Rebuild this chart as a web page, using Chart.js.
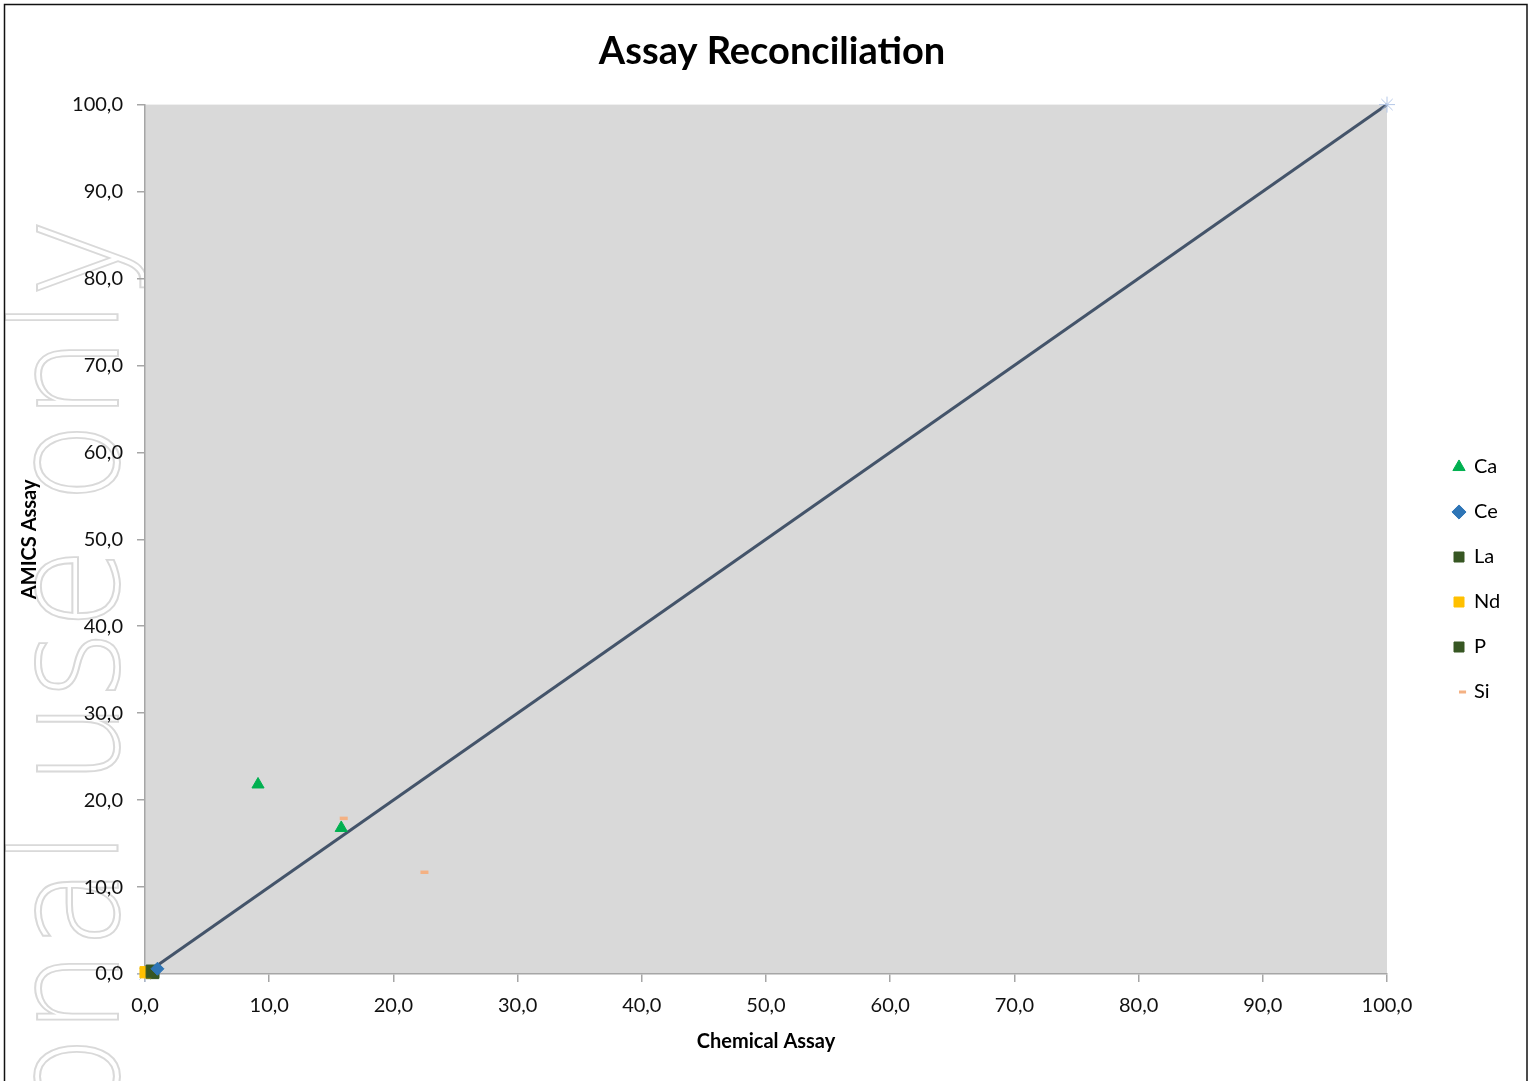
<!DOCTYPE html>
<html>
<head>
<meta charset="utf-8">
<title>Assay Reconciliation</title>
<script src="https://cdn.jsdelivr.net/npm/chart.js@4.4.1/dist/chart.umd.min.js"></script>
<style>
  html, body { margin: 0; padding: 0; background: #fff; }
  #wrap { width: 1536px; height: 1081px; }
</style>
</head>
<body>
<div id="wrap"><canvas id="myChart" width="1536" height="1081"></canvas></div>
<script>
// values (x = chemical assay, y = AMICS assay)
var caX = [9.1, 15.8];
var caY = [21.8, 16.8];
var ceX = [1.0];
var ceY = [0.6];
var laX = [0.6];
var laY = [0.3];
var ndX = [0.05];
var ndY = [0.2];
var pX = [0.6];
var pY = [0.2];
var siX = [16.0, 22.5];
var siY = [17.9, 11.7];
// 1:1 reference line
var refX = [0, 100];
var refY = [0, 100];

var axisTicks = [0, 10, 20, 30, 40, 50, 60, 70, 80, 90, 100];

function pts(xs, ys) {
  return xs.map(function(x, i) { return {x: x, y: ys[i]}; });
}
function fmt(v) {
  return v.toFixed(1).replace('.', ',');
}

var FONT = "Lato, 'Open Sans', sans-serif";

// grey plot area, watermark and the outer frame
var decor = {
  id: 'decor',
  afterInit: function(chart) {
    // legend box fixed in width so the plot ends where it does in the picture
    var lg = chart.legend;
    var fit0 = lg.fit.bind(lg);
    lg.fit = function() { fit0(); this.width = 149; };
  },
  afterLayout: function(chart) {
    var lg = chart.legend;
    var w = lg.width, h = lg.height;
    lg.left = 1429; lg.right = lg.left + w;
    lg.top = 432; lg.bottom = lg.top + h;
  },
  beforeDraw: function(chart) {
    var ctx = chart.ctx, a = chart.chartArea;
    ctx.save();
    ctx.fillStyle = '#d9d9d9';
    ctx.fillRect(a.left, a.top, a.right - a.left, a.bottom - a.top);

    // watermark
    ctx.font = "200 148px 'DejaVu Sans'";
    var s = 568 / ctx.measureText('use only').width;
    ctx.translate(118, 218);
    ctx.rotate(-Math.PI / 2);
    ctx.scale(s, 1);
    ctx.textAlign = 'right';
    ctx.textBaseline = 'alphabetic';
    ctx.strokeStyle = '#d9d9d9';
    ctx.lineWidth = 2;
    ctx.strokeText('For personal use only', 0, 0);
    ctx.restore();
  },
  afterDraw: function(chart) {
    var ctx = chart.ctx;
    ctx.save();
    ctx.strokeStyle = '#111';
    ctx.lineWidth = 1.5;
    ctx.strokeRect(4.5, 4.5, 1522.5, 1100);
    ctx.restore();
  }
};

var ctx = document.getElementById("myChart").getContext('2d');
var myChart = new Chart(ctx, {
  type: 'scatter',
  data: {
    datasets: [
      { label: 'Ca', data: pts(caX, caY), pointStyle: 'triangle', pointRadius: 7,
        backgroundColor: '#00b050', borderColor: '#00b050', borderWidth: 1, clip: false },
      { label: 'Ce', data: pts(ceX, ceY), pointStyle: 'rectRot', pointRadius: 6.5,
        backgroundColor: '#2e75b6', borderColor: '#2e75b6', borderWidth: 1, clip: false },
      { label: 'La', data: pts(laX, laY), pointStyle: 'rect', pointRadius: 9,
        backgroundColor: '#375623', borderColor: '#375623', borderWidth: 1, clip: false },
      { label: 'Nd', data: pts(ndX, ndY), pointStyle: 'rect', pointRadius: 8,
        backgroundColor: '#ffc000', borderColor: '#ffc000', borderWidth: 1, clip: false },
      { label: 'P', data: pts(pX, pY), pointStyle: 'rect', pointRadius: 9,
        backgroundColor: '#375623', borderColor: '#375623', borderWidth: 1, clip: false },
      { label: 'Si', data: pts(siX, siY), pointStyle: 'line', pointRadius: 4,
        backgroundColor: '#f4b183', borderColor: '#f4b183', borderWidth: 3.5, clip: false },
      { label: '1:1', data: pts(refX, refY), showLine: true, borderColor: '#44546a', borderWidth: 3,
        pointStyle: 'star', pointRadius: 8, pointBorderColor: '#b4c7e7', pointBackgroundColor: '#b4c7e7',
        pointBorderWidth: 1, clip: false }
    ]
  },
  options: {
    responsive: false,
    animation: false,
    devicePixelRatio: 1,
    layout: { padding: { left: 8, right: 0, top: 0, bottom: 0 } },
    plugins: {
      title: {
        display: true,
        text: 'Assay Reconciliation',
        color: '#000',
        font: { family: FONT, size: 38, weight: 'bold' },
        padding: { top: 29, bottom: 30 }
      },
      legend: {
        position: 'right',
        align: 'start',
        labels: {
          usePointStyle: true,
          boxWidth: 10,
          boxHeight: 10,
          padding: 25,
          color: '#000',
          font: { family: FONT, size: 20 },
          filter: function(item) { return item.text !== '1:1'; },
          generateLabels: function(chart) {
            var items = Chart.defaults.plugins.legend.labels.generateLabels(chart);
            items.forEach(function(it) {
              if (it.text === 'Si') { it.pointStyle = 'dash'; it.lineWidth = 3; }
            });
            return items;
          }
        }
      },
      tooltip: { enabled: false }
    },
    scales: {
      x: {
        type: 'linear',
        min: 0, max: 100,
        afterBuildTicks: function(scale) {
          scale.ticks = axisTicks.map(function(v) { return {value: v}; });
        },
        afterFit: function(scale) { scale.height = 107; },
        ticks: {
          callback: function(v) { return fmt(v); },
          color: '#111',
          font: { family: FONT, size: 20 },
          padding: 12,
          maxRotation: 0
        },
        grid: { drawOnChartArea: false, drawTicks: true, tickLength: 8, color: '#a6a6a6', lineWidth: 1.5 },
        border: { display: true, color: '#a6a6a6', width: 1.5 },
        title: {
          display: true,
          text: 'Chemical Assay',
          color: '#000',
          font: { family: FONT, size: 20, weight: 'bold' },
          padding: { top: 0, bottom: 27 }
        }
      },
      y: {
        type: 'linear',
        min: 0, max: 100,
        afterBuildTicks: function(scale) {
          scale.ticks = axisTicks.map(function(v) { return {value: v}; });
        },
        afterFit: function(scale) { scale.width = 137; },
        ticks: {
          callback: function(v) { return fmt(v); },
          color: '#111',
          font: { family: FONT, size: 20 },
          padding: 14
        },
        grid: { drawOnChartArea: false, drawTicks: true, tickLength: 8, color: '#a6a6a6', lineWidth: 1.5 },
        border: { display: true, color: '#a6a6a6', width: 1.5 },
        title: {
          display: true,
          text: 'AMICS Assay',
          color: '#000',
          font: { family: FONT, size: 20, weight: 'bold' },
          padding: { top: 10, bottom: 0 }
        }
      }
    }
  },
  plugins: [decor]
});
</script>
</body>
</html>
